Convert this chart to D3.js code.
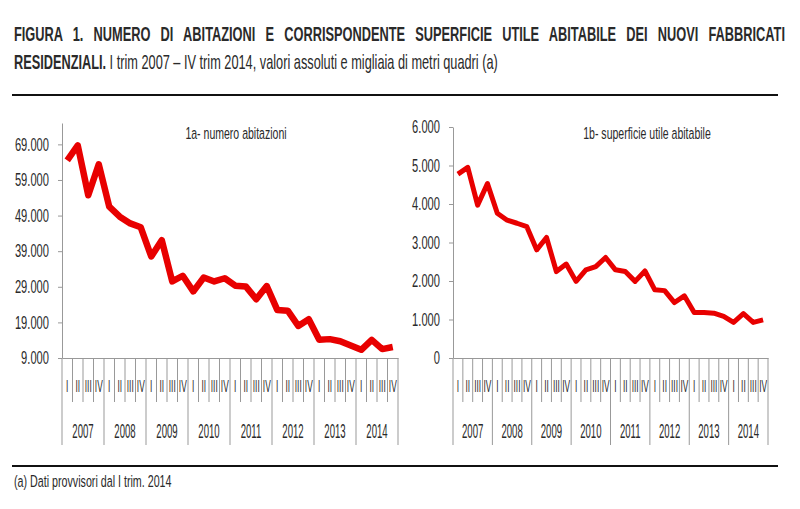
<!DOCTYPE html>
<html><head><meta charset="utf-8">
<script src="https://cdn.jsdelivr.net/npm/d3@7/dist/d3.min.js"></script>
<style>
body{margin:0;background:#fff;}
text{font-family:"Liberation Sans",Arial,sans-serif;fill:#2a2a2a;}
</style></head>
<body><svg id="c" width="800" height="509"></svg>
<script>
const years = ["2007","2008","2009","2010","2011","2012","2013","2014"];
const quarterLabels = ["I","II","III","IV"];
const abitazioni = [64500,68700,54700,63400,51500,48700,46800,45700,37500,42100,30500,32100,27700,31600,30500,31400,29300,29100,25500,29200,22500,22300,18000,19900,14100,14300,13700,12500,11300,14100,11500,12100];
const superficie = [4775,4950,3970,4530,3760,3580,3500,3410,2810,3130,2245,2440,1990,2290,2375,2610,2290,2245,1990,2260,1770,1750,1440,1615,1180,1180,1165,1080,925,1150,925,990];
const leftTicks = [9000,19000,29000,39000,49000,59000,69000];
const rightTicks = [0,1000,2000,3000,4000,5000,6000];

const svg = d3.select("#c");
const loc = d3.formatLocale({decimal:",",thousands:".",grouping:[3],currency:["","€"]});
const fmt = loc.format(",");
const quarters = [];
years.forEach(y => quarterLabels.forEach(q => quarters.push(y + "-" + q)));

// condensed text helper
function ctext(parent, x, y, str, size, anchor, sx){
  const g = parent.append("g").attr("transform",`translate(${x},${y}) scale(${sx},1)`);
  return g.append("text").attr("font-size",size).attr("text-anchor",anchor||"start").text(str);
}
function fitText(x, y, width, size, parts){
  const g = svg.append("g");
  const t = g.append("text").attr("font-size",size);
  parts.forEach(p => t.append("tspan").attr("font-weight",p[1]?"bold":"normal").text(p[0]));
  const w = t.node().getComputedTextLength();
  g.attr("transform",`translate(${x},${y}) scale(${width/w},1)`);
}
function justifyText(x, y, width, size, sx, str){
  const g = svg.append("g").attr("transform",`translate(${x},${y}) scale(${sx},1)`);
  const t = g.append("text").attr("font-size",size).attr("font-weight","bold").text(str);
  const w = t.node().getComputedTextLength();
  const n = (str.match(/ /g) || []).length;
  const ws = (width/sx - w)/n;
  if (ws > 0) t.attr("word-spacing", ws);
  else g.attr("transform",`translate(${x},${y}) scale(${width/w},1)`);
}

// Title
justifyText(14, 41, 771, 20, 0.64, "FIGURA 1. NUMERO DI ABITAZIONI E CORRISPONDENTE SUPERFICIE UTILE ABITABILE DEI NUOVI FABBRICATI");
fitText(14, 69, 484, 20, [["RESIDENZIALI.",true],[" I trim 2007 – IV trim 2014, valori assoluti e migliaia di metri quadri (a)",false]]);
svg.append("line").attr("x1",12).attr("x2",778).attr("y1",95).attr("y2",95).attr("stroke","#111").attr("stroke-width",2);
svg.append("line").attr("x1",12).attr("x2",778).attr("y1",466).attr("y2",466).attr("stroke","#111").attr("stroke-width",2);
ctext(svg, 14, 487, "(a) Dati provvisori dal I trim. 2014", 17, "start", 0.63);

function panel(opts){
  const g = svg.append("g");
  const x = d3.scaleBand().domain(quarters).range([opts.x0, opts.x1]);
  const y = d3.scaleLinear().domain(opts.domain).range([358, opts.top]);
  // y axis
  const ya = g.append("g").attr("transform",`translate(${opts.x0},0)`)
    .call(d3.axisLeft(y).tickValues(opts.ticks).tickSize(4).tickSizeOuter(0).tickFormat(fmt));
  ya.select(".domain").attr("stroke","#999");
  ya.selectAll(".tick line").attr("stroke","#999");
  ya.selectAll("text").attr("font-size",18).attr("fill","#2a2a2a")
    .attr("x", -13/0.62).attr("transform","scale(0.62,1)");
  // x axis
  const xa = g.append("g").attr("transform","translate(0,358)")
    .call(d3.axisBottom(x).tickSize(0).tickFormat(d => d.split("-")[1]).tickPadding(23));
  xa.select(".domain").attr("stroke","#999");
  xa.selectAll("text").attr("font-size",16).attr("fill","#2a2a2a").attr("transform","scale(0.52,1)");
  // separators
  const bounds = quarters.map(q => x(q)).concat([opts.x1]);
  bounds.forEach((b,i) => {
    const isYear = i % 4 === 0;
    g.append("line").attr("x1",b).attr("x2",b).attr("y1",358).attr("y2",isYear?445:402)
      .attr("stroke","#999").attr("stroke-width",1);
  });
  // year labels
  years.forEach((yr,i) => {
    const cx = (x(quarters[i*4]) + x(quarters[i*4+3]) + x.bandwidth())/2;
    ctext(g, cx, 438, yr, 20, "middle", 0.48);
  });
  // title
  ctext(g, opts.tx, 139, opts.title, 17, "middle", 0.62);
  // line
  const line = d3.line().x((d,i) => x(quarters[i]) + x.bandwidth()/2).y(d => y(d));
  g.append("path").datum(opts.data).attr("d",line).attr("fill","none")
    .attr("stroke","#e80000").attr("stroke-width",opts.sw).attr("stroke-linejoin","round");
}

panel({x0:62,x1:398,top:123,domain:[9000,75000],ticks:leftTicks,data:abitazioni,title:"1a- numero abitazioni",tx:236,sw:6.5});
panel({x0:453,x1:768,top:127,domain:[0,6000],ticks:rightTicks,data:superficie,title:"1b- superficie utile abitabile",tx:647,sw:5});
</script></body></html>
